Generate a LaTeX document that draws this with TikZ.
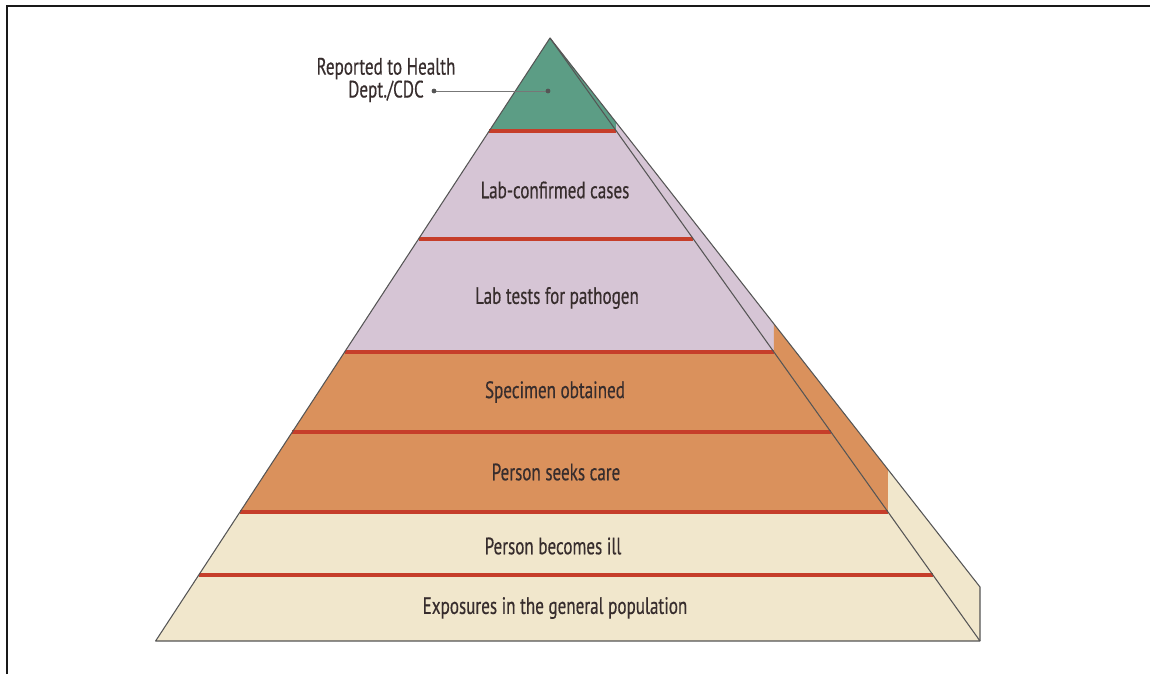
\documentclass[tikz,border=0pt]{standalone}
\usepackage{fontspec}
\setmainfont{PT Sans}[FakeStretch=0.72,FakeBold=0.4]
\usepackage{tikz}
\usetikzlibrary{calc}

\definecolor{tiergreen}{RGB}{92,157,133}
\definecolor{tierlav}{RGB}{214,197,213}
\definecolor{tierorange}{RGB}{218,145,92}
\definecolor{tierbeige}{RGB}{241,231,204}
\definecolor{sepred}{RGB}{198,62,42}
\definecolor{edgegray}{RGB}{85,85,85}
\definecolor{labeltext}{RGB}{55,45,45}

\tikzset{
  tier label/.style={text=labeltext, font=\fontsize{13.5}{13}\selectfont, inner sep=0pt},
  sep line/.style={draw=sepred, line width=2.8pt},
  pyr edge/.style={draw=edgegray, line width=0.6pt, line join=round}
}

\begin{document}
\begin{tikzpicture}[x=0.02cm,y=-0.02cm]
	\useasboundingbox (0,0) rectangle (1150,674);
	%\draw[help lines, step=50] (0,0) grid (1150,674);

	% frame
	\draw[line width=1.5pt, black!90] (7,674) -- (7,6) -- (1150,6);

	% front face
	\fill[tiergreen] (550,38) -- (489.2,131) -- (616.3,131) -- cycle;
	\fill[tierlav] (489.2,131) -- (344.6,352) -- (773.9,352) -- (616.3,131) -- cycle;
	\fill[tierorange] (344.6,352) -- (240,512) -- (888,512) -- (773.9,352) -- cycle;
	\fill[tierbeige] (240,512) -- (155.6,641) -- (980,641) -- (888,512) -- cycle;

	% side face
	\fill[tiergreen] (550,38) -- (616.3,122.7) -- (616.3,131) -- cycle;
	\fill[tierlav] (616.3,122.7) -- (773.9,323.9) -- (773.9,352) -- (616.3,131) -- cycle;
	\fill[tierorange] (773.9,323.9) -- (888,469.6) -- (888,512) -- (773.9,352) -- cycle;
	\fill[tierbeige] (888,469.6) -- (980,587) -- (980,641) -- (888,512) -- cycle;

	% red separators
	\draw[sep line] (489.2,131) -- (616.3,131);
	\draw[sep line] (418.5,239) -- (693.3,239);
	\draw[sep line] (344.6,352) -- (773.9,352);
	\draw[sep line] (292.3,432) -- (830.9,432);
	\draw[sep line] (240,512) -- (888,512);
	\draw[sep line] (198.8,575) -- (932.9,575);

	% outline
	\draw[pyr edge] (980,641) -- (155.6,641) -- (550,38) -- (980,641);
	\draw[pyr edge] (550,38) -- (980,587) -- (980,641);

	% labels
	\node[tier label] (confirmed) at (555,190) {Lab-confirmed cases};
	\node[tier label] (tests) at (557,298) {Lab tests for pathogen};
	\node[tier label] (specimen) at (555,392) {Specimen obtained};
	\node[tier label] (care) at (556,472) {Person seeks care};
	\node[tier label] (ill) at (553,546) {Person becomes ill};
	\node[tier label] (exposure) at (555,608) {Exposures in the general population};

	\node[tier label, align=center] (reported) at (386,80) {Reported to Health\\Dept./CDC};
	\coordinate (repdot) at (434,91);
	\coordinate (topdot) at (548,91);
	\draw[edgegray!80, line width=0.5pt] (repdot) -- (topdot);
	\fill[edgegray] (repdot) circle (2.4) (topdot) circle (2.4);
\end{tikzpicture}
\end{document}
